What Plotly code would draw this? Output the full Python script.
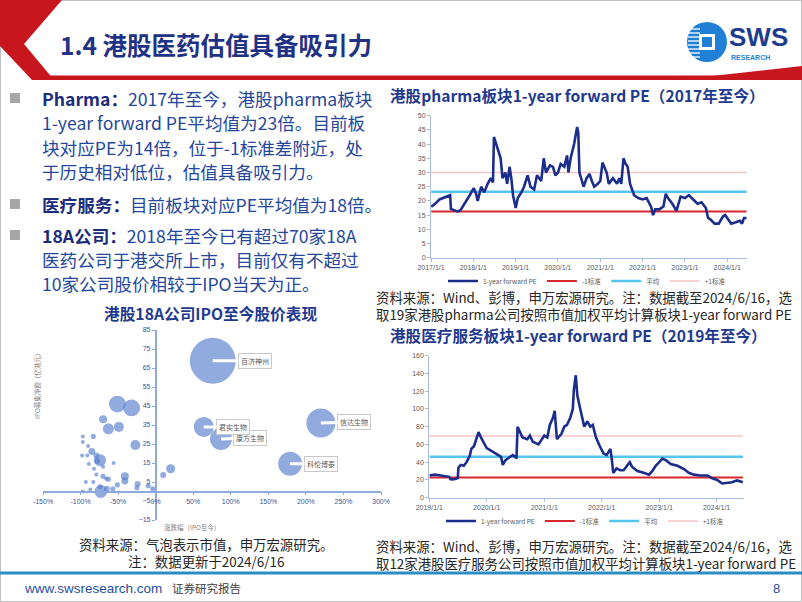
import plotly.graph_objects as go

W, H = 802, 602
def px(x): return x / W
def py(y): return 1 - y / H

# ---------------- data ----------------
pharma_dates = ["2017-01-03","2017-02-01","2017-03-15","2017-04-20","2017-05-20","2017-06-15","2017-06-22",
    "2017-07-15","2017-08-15","2017-09-10","2017-10-10","2017-11-10","2017-12-01","2018-01-05","2018-01-25",
    "2018-02-08","2018-03-10","2018-04-05","2018-05-05","2018-06-01","2018-06-20","2018-06-28","2018-07-20",
    "2018-08-10","2018-08-25","2018-09-10","2018-10-05","2018-10-20","2018-11-10","2018-11-25","2018-12-10",
    "2019-01-02","2019-01-20","2019-02-20","2019-03-15","2019-04-15","2019-05-10","2019-06-10","2019-07-05",
    "2019-08-10","2019-09-01","2019-09-20","2019-10-25","2019-11-20","2019-12-10","2020-01-02","2020-01-25",
    "2020-02-25","2020-03-20","2020-04-01","2020-04-20","2020-05-20","2020-06-15","2020-06-25","2020-07-05",
    "2020-07-25","2020-08-10","2020-09-05","2020-09-30","2020-10-20","2020-11-10","2020-12-10","2021-01-01",
    "2021-01-20","2021-02-05","2021-02-25","2021-03-15","2021-04-20","2021-05-25","2021-06-15","2021-07-01",
    "2021-07-20","2021-08-08","2021-08-25","2021-09-15","2021-10-20","2021-11-25","2022-01-01","2022-02-05",
    "2022-03-15","2022-04-01","2022-04-20","2022-05-25","2022-06-30","2022-07-20","2022-08-08","2022-09-15",
    "2022-10-20","2022-11-25","2023-01-01","2023-02-05","2023-03-15","2023-04-20","2023-05-25","2023-07-01",
    "2023-07-20","2023-08-08","2023-09-15","2023-10-20","2023-11-25","2023-12-15","2024-01-01","2024-02-05",
    "2024-03-15","2024-04-20","2024-05-08","2024-05-25","2024-06-16"]
pharma_pe = [18.0,18.8,20.5,21.0,21.5,22.0,17.2,16.8,16.3,16.6,18.5,20.5,22.0,24.5,22.5,
    20.0,25.0,23.0,26.0,28.0,26.5,42.5,40.0,37.0,35.0,28.0,30.0,26.0,32.0,28.0,22.0,
    17.5,21.0,23.0,25.0,29.0,25.0,24.0,29.0,27.0,35.0,30.0,32.5,32.0,29.0,30.0,33.0,
    32.0,36.0,30.0,35.0,40.0,46.0,44.0,30.0,27.0,25.0,28.0,29.5,27.0,25.0,26.0,27.0,
    33.5,32.0,30.0,26.0,28.0,26.0,28.0,26.0,35.0,33.0,32.0,26.0,22.0,21.0,20.5,21.0,
    18.0,15.0,17.0,17.0,18.0,22.5,21.0,19.0,16.5,21.5,21.0,22.0,20.5,19.0,19.5,17.5,
    14.0,13.5,12.0,12.0,14.5,15.0,14.0,12.0,12.5,13.0,12.0,14.0,14.0]
pharma_lo, pharma_mean, pharma_hi = 16.3, 23.2, 30.0
pharma_ticks = ["2017/1/1","2018/1/1","2019/1/1","2020/1/1","2021/1/1","2022/1/1","2023/1/1","2024/1/1"]

hc_dates = ["2019-01-02","2019-02-05","2019-03-15","2019-04-20","2019-05-08","2019-05-15","2019-05-25",
    "2019-06-15","2019-07-01","2019-07-05","2019-07-20","2019-08-08","2019-08-25","2019-09-15","2019-09-25",
    "2019-10-12","2019-10-28","2019-11-10","2019-11-25","2019-12-15","2020-01-01","2020-01-20","2020-02-05",
    "2020-02-25","2020-03-15","2020-04-01","2020-04-12","2020-04-28","2020-05-20","2020-06-15","2020-07-01",
    "2020-07-08","2020-07-15","2020-07-26","2020-08-15","2020-09-15","2020-10-01","2020-10-20","2020-11-25",
    "2021-01-01","2021-01-20","2021-02-05","2021-02-25","2021-03-08","2021-03-22","2021-04-20","2021-05-08",
    "2021-05-25","2021-06-15","2021-07-01","2021-07-08","2021-07-20","2021-07-30","2021-08-15","2021-08-28",
    "2021-09-12","2021-10-01","2021-10-20","2021-11-05","2021-11-25","2021-12-20","2022-01-12","2022-02-01",
    "2022-02-25","2022-03-05","2022-03-15","2022-04-05","2022-04-28","2022-05-20","2022-06-10","2022-06-28",
    "2022-07-12","2022-08-15","2022-09-25","2022-10-28","2022-11-18","2022-12-10","2023-01-01","2023-01-22",
    "2023-02-15","2023-03-15","2023-04-28","2023-06-10","2023-07-08","2023-08-10","2023-09-20","2023-11-05",
    "2023-12-01","2024-01-05","2024-02-05","2024-03-08","2024-04-08","2024-05-10","2024-06-10","2024-06-16"]
hc_pe = [25.0,26.0,25.0,24.0,23.5,21.0,20.5,21.0,22.0,34.0,37.0,36.0,40.0,47.0,55.0,
    58.0,68.0,74.0,68.0,62.0,56.0,54.0,52.0,50.0,48.0,46.0,37.0,42.0,45.0,48.0,46.0,
    44.0,80.0,75.0,68.0,66.0,70.0,63.0,60.0,70.0,68.0,82.0,90.0,98.0,66.0,72.0,80.0,
    82.0,90.0,100.0,122.0,138.0,115.0,102.0,92.0,80.0,86.0,80.0,82.0,68.0,58.0,50.0,48.0,
    55.0,45.0,28.0,33.0,31.0,31.0,36.0,40.0,35.0,30.0,28.0,26.0,30.0,36.0,40.0,44.0,
    42.0,38.0,36.0,32.0,28.0,26.0,25.0,25.0,22.0,20.0,16.0,17.0,17.5,19.5,18.0,17.5]
hc_lo, hc_mean, hc_hi = 22.9, 46.2, 69.5
hc_ticks = ["2019/1/1","2020/1/1","2021/1/1","2022/1/1","2023/1/1","2024/1/1"]

bubble_ret = [76, 220, 179, 87, 64, -51, -32, -70, -63, -49, -27, -83, -97, -97, -90, -85, -79, -74, -78, -91,
    -98, -89, -56, -82, -70, -41, 20, 10, -70, -83, -93, -87, -73, -65, -57, -51, -41, -24, -25, -10,
    -4, -79, -66, -74, -97, -63]
bubble_raise = [68.8, 36, 14.6, 27.6, 34, 46, 44, 38, 33, 34, 24.5, 29, 29, 26, 24, 21, 19, 16.5, 16, 19,
    19, 14.5, 15, 12, 13, 8, 12, 8.7, 8, 5, 5, 1, 0, 1.4, 1.4, 3.5, 5.5, 4, 2, 3,
    1.4, 9, 6.7, 2.5, 0, 6.5]
bubble_mv = [1480, 590, 400, 340, 280, 200, 200, 45, 85, 70, 70, 18, 6, 6, 11, 34, 25, 100, 25, 6,
    3, 6, 11, 6, 11, 45, 57, 25, 18, 6, 3, 11, 118, 25, 18, 18, 34, 25, 18, 18,
    18, 11, 11, 18, 3, 18]
label_names = ["百济神州", "信达生物", "科伦博泰", "康方生物", "君实生物"]
x_ticks_pct = [-150, -100, -50, 0, 50, 100, 150, 200, 250, 300]

# ---------------- styles ----------------
CJK = "Noto Sans CJK SC"
NAVY = "#1b2e8c"
BODY = "#25479b"
TICK = "#5a5a5a"
RED = "#d9272e"
CYAN = "#55c5ef"
PINK = "#f5c4c4"

fig = go.Figure()

def add_pe_chart(dates, pe, lo, mean, hi, xa, ya, leg):
    x_ends = [dates[0], dates[-1]]
    fig.add_trace(go.Scatter(x=x_ends, y=[hi, hi], mode="lines", name="+1标准", legendrank=4,
                             line=dict(color=PINK, width=1.6), xaxis=xa, yaxis=ya, legend=leg))
    fig.add_trace(go.Scatter(x=x_ends, y=[mean, mean], mode="lines", name="平均", legendrank=3,
                             line=dict(color=CYAN, width=2.5), xaxis=xa, yaxis=ya, legend=leg))
    fig.add_trace(go.Scatter(x=x_ends, y=[lo, lo], mode="lines", name="-1标准", legendrank=2,
                             line=dict(color=RED, width=2), xaxis=xa, yaxis=ya, legend=leg))
    fig.add_trace(go.Scatter(x=dates, y=pe, mode="lines", name="1-year forward PE", legendrank=1,
                             line=dict(color=NAVY, width=2.6), xaxis=xa, yaxis=ya, legend=leg))

add_pe_chart(pharma_dates, pharma_pe, pharma_lo, pharma_mean, pharma_hi, "x", "y", "legend")
add_pe_chart(hc_dates, hc_pe, hc_lo, hc_mean, hc_hi, "x2", "y2", "legend2")

fig.add_trace(go.Scatter(
    x=bubble_ret, y=bubble_raise, mode="markers", showlegend=False,
    marker=dict(size=bubble_mv, sizemode="area", sizeref=1.4, sizemin=2,
                color="rgba(86,124,204,0.92)", line=dict(width=0)),
    xaxis="x3", yaxis="y3"))

# label callouts for the largest bubbles
label_pos = [(132, 68.8), (264, 36.7), (220, 14.6), (125.6, 28.3), (103, 34)]
for i, name in enumerate(label_names):
    fig.add_annotation(x=bubble_ret[i], y=bubble_raise[i], xref="x3", yref="y3",
                       ax=label_pos[i][0], ay=label_pos[i][1], axref="x3", ayref="y3",
                       text=name, showarrow=True, arrowhead=0, arrowwidth=3, arrowcolor="white",
                       bgcolor="white", bordercolor="#c9c9c9", borderwidth=1, borderpad=2,
                       font=dict(family=CJK, size=7, color="#595959"))

axis_common = dict(showgrid=False, zeroline=False, showline=True, linecolor="#a9bbe0", linewidth=1,
                   ticks="outside", ticklen=3, tickcolor="#a9bbe0", automargin=False,
                   tickfont=dict(family="Liberation Sans", size=7, color=TICK))

def iso(t):
    y, m, d = t.split("/")
    return f"{y}-{int(m):02d}-{int(d):02d}"

# bubble chart axes geometry
bx0, bx1, by0, by1 = px(43), px(381), py(520), py(330)
bxr, byr = [-150, 300], [-15, 85]
bub_axis = dict(showgrid=False, zeroline=False, showline=True, linecolor="#8fa9dc", linewidth=1.5,
                ticks="outside", ticklen=3, tickcolor="#8fa9dc", automargin=False,
                tickfont=dict(family="Liberation Sans", size=7, color="#3d5590"))
fig.update_layout(
    xaxis=dict(domain=[px(431), px(747)], range=["2017-01-01", "2024-06-20"], anchor="y",
               tickvals=[iso(t) for t in pharma_ticks], ticktext=pharma_ticks, **axis_common),
    yaxis=dict(domain=[py(257.7), py(115.7)], range=[0, 50], dtick=5, anchor="x", **axis_common),
    xaxis2=dict(domain=[px(429.3), px(743.5)], range=["2019-01-01", "2024-06-20"], anchor="y2",
                tickvals=[iso(t) for t in hc_ticks], ticktext=hc_ticks, **axis_common),
    yaxis2=dict(domain=[py(497.7), py(355.7)], range=[0, 160], dtick=20, anchor="x2", **axis_common),
    xaxis3=dict(domain=[bx0, bx1], range=bxr, anchor="free",
                position=by0 + (0 - byr[0]) / (byr[1] - byr[0]) * (by1 - by0),
                tickvals=x_ticks_pct, ticktext=[f"{v}%" for v in x_ticks_pct], **bub_axis),
    yaxis3=dict(domain=[by0, by1], range=byr, anchor="free",
                position=bx0 + (0 - bxr[0]) / (bxr[1] - bxr[0]) * (bx1 - bx0),
                tick0=5, dtick=10, **bub_axis),
    legend=dict(orientation="h", x=px(587), y=py(281), xanchor="center", yanchor="middle",
                font=dict(family=CJK, size=6.5, color=TICK), itemwidth=30, bgcolor="rgba(0,0,0,0)",
                traceorder="normal"),
    legend2=dict(orientation="h", x=px(585), y=py(521), xanchor="center", yanchor="middle",
                 font=dict(family=CJK, size=6.5, color=TICK), itemwidth=30, bgcolor="rgba(0,0,0,0)",
                 traceorder="normal"),
    width=W, height=H, margin=dict(l=0, r=0, t=0, b=0, autoexpand=False),
    paper_bgcolor="white", plot_bgcolor="rgba(0,0,0,0)",
    font=dict(family=CJK),
)

def text(x, y, s, size, color="#262626", anchor="left", family=CJK, **kw):
    fig.add_annotation(x=px(x), y=py(y), xref="paper", yref="paper", text=s, showarrow=False,
                       xanchor=anchor, yanchor="middle", font=dict(family=family, size=size, color=color), **kw)

# ---------------- header ----------------
def path(points):
    return "M " + " L ".join(f"{px(a):.5f},{py(b):.5f}" for a, b in points) + " Z"

shapes = []
shapes.append(dict(type="rect", xref="paper", yref="paper", x0=px(0.5), x1=px(801.5), y0=py(601.5), y1=py(0.5),
                   line=dict(color="#c0c0c0", width=1), fillcolor="rgba(0,0,0,0)"))
shapes.append(dict(type="path", xref="paper", yref="paper", fillcolor="#c8161e", line=dict(width=0),
                   path=path([(0, 0), (62, 0), (24, 44), (54, 80), (32, 80), (0, 46)])))
shapes.append(dict(type="rect", xref="paper", yref="paper", x0=px(40), x1=px(802), y0=py(80), y1=py(75.5),
                   fillcolor="#c8161e", line=dict(width=0)))
shapes.append(dict(type="path", xref="paper", yref="paper", fillcolor="#c8161e", line=dict(width=0),
                   path=path([(676, 80), (802, 66), (802, 80)])))
# logo
shapes.append(dict(type="circle", xref="paper", yref="paper", x0=px(687), x1=px(727), y0=py(62), y1=py(22),
                   fillcolor="#1f80d6", line=dict(width=0)))
for yy in [29, 33, 37, 41, 45, 49, 53, 57]:
    shapes.append(dict(type="line", xref="paper", yref="paper", x0=px(688), x1=px(700), y0=py(yy), y1=py(yy),
                       line=dict(color="white", width=1.3)))
shapes.append(dict(type="rect", xref="paper", yref="paper", x0=px(699), x1=px(715), y0=py(50), y1=py(34),
                   fillcolor="white", line=dict(width=0)))
shapes.append(dict(type="rect", xref="paper", yref="paper", x0=px(702), x1=px(712), y0=py(47), y1=py(37),
                   fillcolor="#1f80d6", line=dict(width=0)))
# bullets
for by in [98, 204, 235]:
    shapes.append(dict(type="rect", xref="paper", yref="paper", x0=px(10), x1=px(20), y0=py(by + 5), y1=py(by - 5),
                       fillcolor="#a6a6a6", line=dict(width=0)))
# footer line
shapes.append(dict(type="line", xref="paper", yref="paper", x0=0, x1=1, y0=py(573), y1=py(573),
                   line=dict(color="#2b8dc4", width=3)))
fig.update_layout(shapes=shapes)

text(58, 45, "<b>1.4 港股医药估值具备吸引力</b>", 24.5, "#1f3285")
text(727, 37, "<b>SWS</b>", 26, "#1e3d8f", family="Liberation Sans")
text(729, 58, "<b>RESEARCH</b>", 7, "#2a7fd0", family="Liberation Sans")

# ---------------- bullet text ----------------
B = "<b><span style='color:#1c2c7a'>{}</span></b>"
lines = [
    (98, B.format("Pharma：") + "2017年至今，港股pharma板块"),
    (122.5, "1-year forward PE平均值为23倍。目前板"),
    (147, "块对应PE为14倍，位于-1标准差附近，处"),
    (171.5, "于历史相对低位，估值具备吸引力。"),
    (204, B.format("医疗服务：") + "目前板块对应PE平均值为18倍。"),
    (235.5, B.format("18A公司：") + "2018年至今已有超过70家18A"),
    (259.5, "医药公司于港交所上市，目前仅有不超过"),
    (283.5, "10家公司股价相较于IPO当天为正。"),
]
for y, s in lines:
    text(40, y, s, 17.6, BODY)

# ---------------- chart titles & captions ----------------
text(388, 95, "<b>港股pharma板块1-year forward PE（2017年至今）</b>", 15.6, "#1f3a8f")
text(388, 335, "<b>港股医疗服务板块1-year forward PE（2019年至今）</b>", 15.6, "#1f3a8f")
text(210, 313, "<b>港股18A公司IPO至今股价表现</b>", 15.7, "#1f3a8f", anchor="center")

CAP = 13.4
text(374, 305, "资料来源：Wind、彭博，申万宏源研究。注：数据截至2024/6/16，选<br>"
               "取19家港股pharma公司按照市值加权平均计算板块1-year forward PE", CAP, align="left")
text(374, 554.5, "资料来源：Wind、彭博，申万宏源研究。注：数据截至2024/6/16，选<br>"
                 "取12家港股医疗服务公司按照市值加权平均计算板块1-year forward PE", CAP, align="left")
text(206, 552, "资料来源：气泡表示市值，申万宏源研究。<br>注：数据更新于2024/6/16", CAP,
     anchor="center", align="center")

# bubble axis titles
text(37, 385, "IPO募集净额（亿港元）", 6.5, "#7f7f7f", anchor="center", textangle=-90)
text(192, 527, "涨跌幅（IPO至今）", 6.5, "#7f7f7f", anchor="center")

# ---------------- footer ----------------
text(22, 588, "www.swsresearch.com", 13.5, "#1f4ea0", family="Liberation Sans")
text(170, 588, "证券研究报告", 11.5, "#404040")
text(776, 588, "8", 13, "#1f4ea0", anchor="center", family="Liberation Sans")

fig.write_html("out.html", config={"displayModeBar": False},
               post_script="document.body.style.margin='0px';")
